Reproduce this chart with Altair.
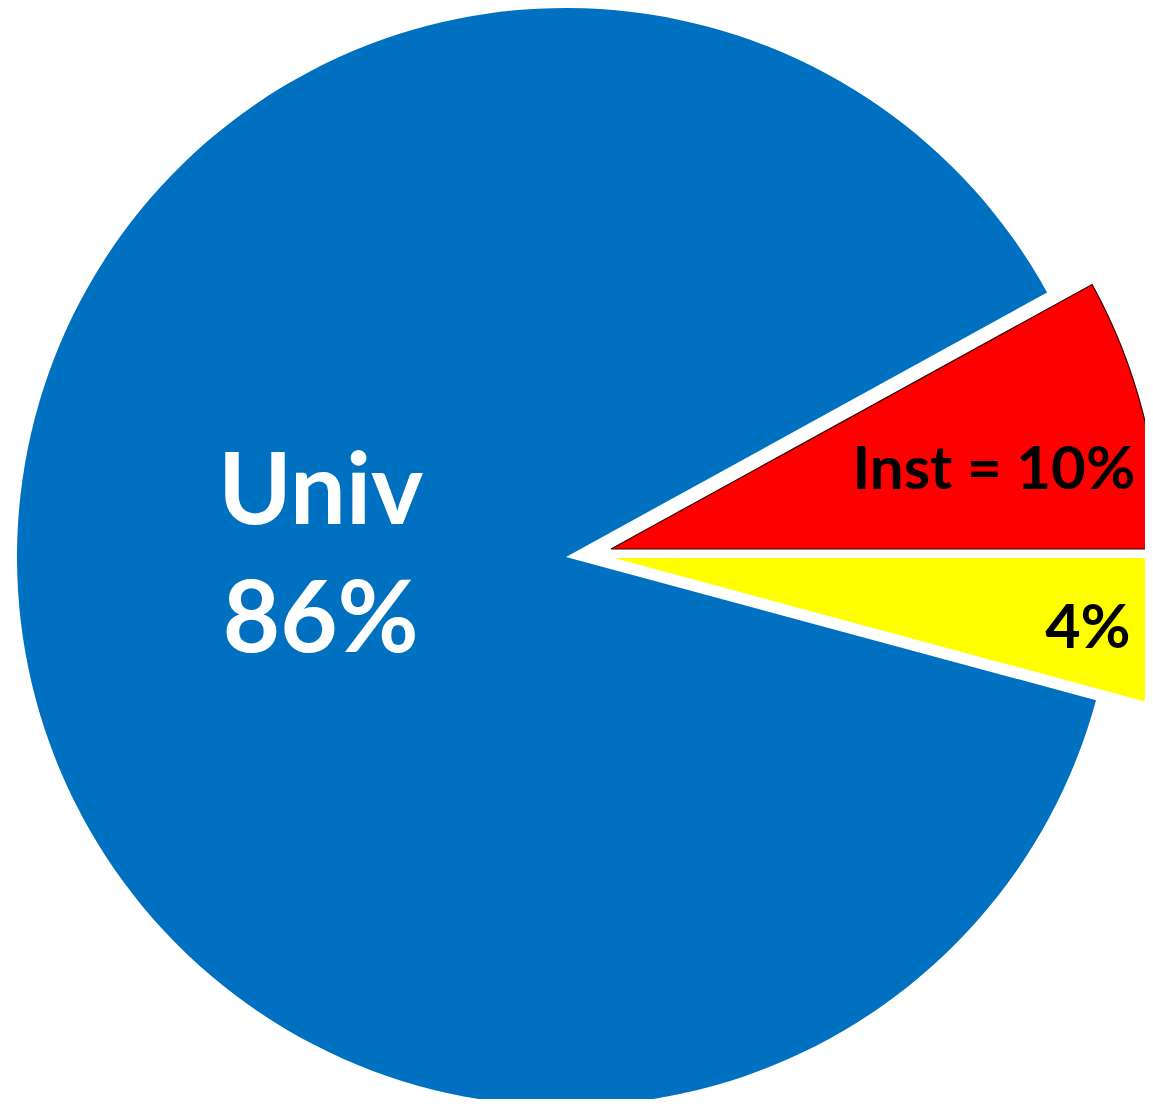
import math
import altair as alt
import pandas as pd

# ---- data ----
categories = ["Other", "Univ", "Inst"]          # clockwise from 3 o'clock
shares = [4.2, 87.8, 8.0]                      # angular share of each slice (%)
label_pct = [4, 86, 10]                        # percentages printed on the slices
label_text = ["4%", "Univ\n86%", "Inst = 10%"]
colors = ["#FFFF00", "#0070C0", "#FF0000"]
text_colors = ["#000000", "#FFFFFF", "#000000"]

df = pd.DataFrame({"cat": categories, "share": shares, "pct": label_pct,
                   "label": label_text})
df["end"] = df["share"].cumsum()
df["start"] = df["end"] - df["share"]
df["mid"] = (df["start"] + df["end"]) / 2

# ---- layout ----
R = 549
centers = {"Other": (606, 550), "Univ": (558, 549), "Inst": (603, 541)}
label_r = {"Other": 478, "Univ": 245, "Inst": 390}
label_dx = {"Other": 0, "Univ": -2, "Inst": 5}
label_dy = {"Other": 9, "Univ": -92, "Inst": 19}
font_size = {"Other": 61, "Univ": 99, "Inst": 60}
strokes = {"Other": None, "Univ": None, "Inst": "#3a0000"}

theta_scale = alt.Scale(domain=[0, 100], range=[math.pi / 2, math.pi / 2 + 2 * math.pi])

base = alt.Chart(df)
layers = []
for cat, col in zip(categories, colors):
    cx, cy = centers[cat]
    kw = dict(radius=R, clip=True, fill=col)
    if strokes[cat]:
        kw.update(stroke=strokes[cat], strokeWidth=1.2)
    layers.append(
        base.transform_filter(alt.datum.cat == cat)
        .mark_arc(**kw)
        .encode(
            theta=alt.Theta("start:Q", scale=theta_scale),
            theta2="end:Q",
            x=alt.value(cx),
            y=alt.value(cy),
        )
    )

for cat, tcol in zip(categories, text_colors):
    cx, cy = centers[cat]
    layers.append(
        base.transform_filter(alt.datum.cat == cat)
        .mark_text(
            font="Lato",
            fontWeight="bold",
            fontSize=font_size[cat],
            color=tcol,
            align="center",
            baseline="middle",
            lineBreak="\n",
            lineHeight=128,
            dx=label_dx[cat],
            dy=label_dy[cat],
        )
        .encode(
            theta=alt.Theta("mid:Q", scale=theta_scale),
            radius=alt.value(label_r[cat]),
            x=alt.value(cx),
            y=alt.value(cy),
            text="label:N",
        )
    )

chart = (
    alt.layer(*layers)
    .properties(width=1137, height=1091, padding=0, background="#FFFFFF")
    .configure_view(stroke=None)
)

chart.save("out.html", embed_options={"renderer": "svg", "actions": False})
